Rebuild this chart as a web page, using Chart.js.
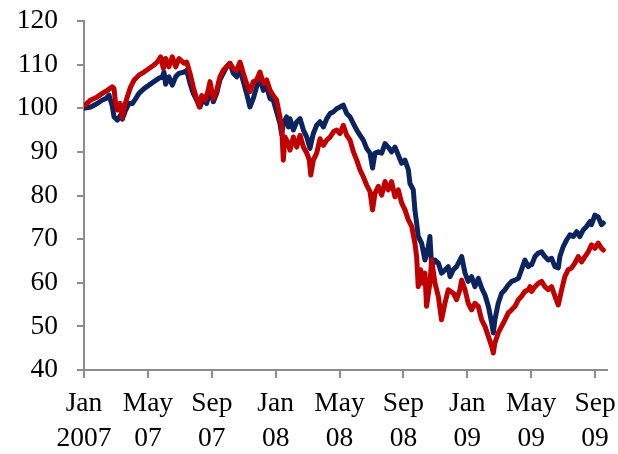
<!DOCTYPE html>
<html>
<head>
<meta charset="utf-8">
<script src="https://cdn.jsdelivr.net/npm/chart.js@4/dist/chart.umd.min.js"></script>
<style>
  html, body { margin: 0; padding: 0; background: #fff; }
  #wrap { width: 618px; height: 454px; }
</style>
</head>
<body>
<div id="wrap"><canvas id="myChart" width="618" height="454"></canvas></div>
<script>
// x positions are months since Jan 2007
const tickMonths = [0, 4, 8, 12, 16, 20, 24, 28, 32];
const tickTop = ['Jan', 'May', 'Sep', 'Jan', 'May', 'Sep', 'Jan', 'May', 'Sep'];
const tickBottom = ['2007', '07', '07', '08', '08', '08', '09', '09', '09'];

// navy series
const blueMonths = [
  0, 0.42, 0.83, 1.15, 1.36, 1.57, 1.77, 1.88, 2.09, 2.30, 2.40, 2.61, 2.82, 3.03, 3.24, 3.44, 3.76, 4.07, 4.38, 4.70, 4.91, 5.01, 5.11, 5.32, 5.53, 5.74, 5.95, 6.26,
  6.43, 6.64, 6.84, 7.05, 7.26, 7.47, 7.68, 7.89, 8.10, 8.31, 8.51, 8.72, 8.93, 9.14, 9.35, 9.56, 9.77, 9.98, 10.18, 10.39, 10.60, 10.81, 11.02, 11.23, 11.44, 11.65, 11.85, 12.06, 12.27,
  12.38, 12.48, 12.69, 12.80, 12.90, 13.11, 13.32, 13.53, 13.74, 13.95, 14.15, 14.36, 14.57, 14.78, 14.99, 15.20, 15.41, 15.62, 15.82, 16.03, 16.24, 16.45, 16.66, 16.87, 17.08, 17.29, 17.49, 17.70, 17.91,
  18.07, 18.22, 18.43, 18.64, 18.85, 19.05, 19.26, 19.47, 19.68, 19.89, 20.10, 20.31, 20.41, 20.62, 20.72, 20.83, 20.93, 21.14, 21.35, 21.56, 21.66, 21.77, 21.98, 22.19, 22.39, 22.60, 22.81, 22.92,
  23.13, 23.33, 23.54, 23.65, 23.86, 24.06, 24.27, 24.48, 24.69, 24.90, 25.11, 25.32, 25.53, 25.63, 25.73, 25.94, 26.15, 26.36, 26.57, 26.78, 26.99, 27.20, 27.40, 27.61, 27.82, 27.93,
  28.03, 28.24, 28.45, 28.65, 28.86, 29.07, 29.28, 29.49, 29.70, 29.80, 30.01, 30.22, 30.43, 30.64, 30.85, 31.05, 31.26, 31.47, 31.68, 31.78, 31.99, 32.20, 32.41, 32.52
];
const blueValues = [
  100.0, 100.3, 101.1, 101.9, 102.2, 103.0, 100.5, 98.0, 97.3, 98.5, 97.5, 99.6, 101.1, 101.1, 102.2, 103.4, 104.5, 105.3, 106.1, 106.9, 107.2, 108.3, 105.5, 107.2, 105.3, 107.2, 108.0, 108.3,
  108.7, 105.7, 103.4, 101.9, 100.3, 102.2, 101.1, 104.1, 101.5, 103.4, 106.5, 108.0, 109.5, 110.3, 108.0, 107.2, 108.7, 106.1, 103.4, 100.3, 102.2, 104.9, 106.9, 104.1, 104.9, 102.2, 101.9, 99.2, 96.5,
  94.0, 96.5, 98.0, 95.7, 97.6, 95.0, 96.9, 97.6, 95.0, 93.4, 90.8, 94.2, 96.1, 96.9, 95.7, 97.6, 98.8, 99.2, 99.9, 100.3, 100.7, 98.8, 98.0, 96.5, 95.0, 93.8, 92.7, 90.8, 89.7,
  86.3, 89.7, 90.0, 89.7, 91.9, 91.1, 90.0, 91.1, 89.3, 87.4, 88.1, 85.9, 82.8, 81.3, 76.7, 73.7, 70.6, 69.1, 65.2, 68.3, 70.6, 63.7, 65.2, 64.5, 62.2, 62.9, 63.7, 61.4,
  63.0, 63.7, 65.2, 66.0, 62.2, 60.3, 61.4, 59.1, 61.0, 58.8, 57.2, 54.6, 50.8, 48.5, 51.5, 55.3, 57.6, 58.4, 59.5, 60.3, 60.6, 61.0, 63.0, 65.2, 63.7, 64.1,
  64.1, 66.0, 66.8, 67.1, 66.0, 65.2, 65.6, 63.7, 63.4, 66.0, 68.3, 69.8, 71.0, 70.6, 71.7, 70.6, 72.1, 72.9, 74.0, 73.3, 75.5, 75.1, 73.3, 73.7
];

// red series
const redMonths = [
  0, 0.42, 0.83, 1.15, 1.46, 1.77, 1.88, 1.98, 2.09, 2.25, 2.40, 2.55, 2.71, 2.92, 3.13, 3.44, 3.76, 4.07, 4.38, 4.59, 4.80, 4.97, 5.11, 5.32, 5.53, 5.74, 5.95, 6.26,
  6.43, 6.64, 6.84, 7.05, 7.22, 7.37, 7.58, 7.78, 7.89, 8.10, 8.31, 8.51, 8.72, 8.93, 9.14, 9.35, 9.56, 9.77, 9.98, 10.18, 10.39, 10.60, 10.81, 11.02, 11.23, 11.44, 11.65, 11.85, 12.06, 12.27,
  12.38, 12.48, 12.59, 12.80, 12.90, 13.11, 13.32, 13.53, 13.74, 13.95, 14.11, 14.20, 14.36, 14.57, 14.78, 14.99, 15.20, 15.41, 15.62, 15.82, 16.03, 16.24, 16.45, 16.66, 16.87, 17.08, 17.29, 17.49, 17.70, 17.91,
  18.07, 18.22, 18.43, 18.64, 18.85, 19.05, 19.26, 19.47, 19.68, 19.89, 20.10, 20.31, 20.52, 20.72, 20.83, 20.93, 21.08, 21.20, 21.35, 21.45, 21.66, 21.77, 21.98, 22.19, 22.39, 22.60, 22.81,
  23.13, 23.33, 23.54, 23.65, 23.86, 24.06, 24.27, 24.48, 24.69, 24.90, 25.11, 25.32, 25.53, 25.63, 25.73, 25.94, 26.15, 26.36, 26.57, 26.78, 26.99, 27.20, 27.40, 27.61, 27.82, 27.93,
  28.03, 28.24, 28.45, 28.65, 28.86, 29.07, 29.28, 29.49, 29.70, 29.91, 30.11, 30.32, 30.53, 30.74, 30.95, 31.16, 31.37, 31.58, 31.78, 31.99, 32.20, 32.41, 32.52
];
const redValues = [
  100.5, 101.9, 102.6, 103.4, 104.1, 104.9, 104.5, 101.1, 99.6, 101.1, 97.8, 100.7, 102.6, 104.9, 106.4, 107.6, 108.3, 109.1, 109.9, 110.6, 111.8, 109.1, 111.4, 109.5, 111.8, 109.5, 111.4, 110.3,
  110.6, 108.0, 104.9, 102.2, 100.3, 102.9, 101.9, 104.1, 106.1, 102.2, 104.1, 107.2, 108.7, 109.5, 110.3, 109.1, 108.7, 110.6, 108.0, 105.7, 103.8, 106.1, 106.5, 108.3, 105.7, 106.5, 104.1, 102.9, 101.9, 98.0,
  95.7, 88.1, 93.4, 91.9, 90.4, 93.4, 91.1, 93.8, 91.1, 89.7, 88.1, 84.7, 88.1, 89.7, 93.0, 91.5, 92.7, 93.4, 94.6, 95.0, 94.2, 96.1, 93.8, 92.7, 90.0, 88.1, 85.8, 84.3, 82.4, 80.9,
  76.7, 80.5, 82.1, 80.1, 83.2, 81.3, 83.2, 79.7, 81.3, 78.3, 76.7, 74.4, 72.9, 69.1, 66.0, 59.1, 63.0, 59.9, 62.2, 54.6, 59.9, 65.2, 59.9, 56.8, 51.5, 55.3, 58.4,
  57.6, 56.1, 58.4, 60.6, 58.4, 55.3, 53.8, 55.3, 54.6, 51.5, 50.0, 47.7, 45.4, 43.9, 46.2, 48.5, 50.0, 51.5, 53.1, 53.8, 54.6, 56.1, 56.9, 58.0, 58.4, 59.1,
  58.0, 59.1, 59.9, 60.3, 59.1, 58.4, 59.1, 56.9, 54.9, 58.4, 61.4, 63.0, 63.4, 64.5, 66.0, 64.8, 66.0, 67.1, 68.7, 67.9, 69.1, 67.9, 67.5
];

const axisGray = '#8c8c8c';
const font = { family: '"Liberation Serif", "Times New Roman", serif', size: 27.5, lineHeight: 1.25 };

const toPoints = (xs, ys) => xs.map((x, i) => ({ x, y: ys[i] }));

const data = {
  datasets: [
    {
      label: 'red',
      data: toPoints(redMonths, redValues),
      borderColor: '#c00000',
      borderWidth: 5,
      pointRadius: 0,
      tension: 0,
      borderJoinStyle: 'round',
      borderCapStyle: 'round'
    },
    {
      label: 'navy',
      data: toPoints(blueMonths, blueValues),
      borderColor: '#0b2460',
      borderWidth: 5,
      pointRadius: 0,
      tension: 0,
      borderJoinStyle: 'round',
      borderCapStyle: 'round'
    }
  ]
};

const options = {
  responsive: false,
  animation: false,
  layout: { padding: { top: 21, right: 11, left: 0, bottom: 0 } },
  plugins: {
    legend: { display: false },
    tooltip: { enabled: false }
  },
  scales: {
    x: {
      type: 'linear',
      min: 0,
      max: 32.75,
      afterBuildTicks: (scale) => {
        scale.ticks = tickMonths.map(v => ({ value: v }));
      },
      // fixed box, no extra room for label overflow
      afterFit: (scale) => {
        scale.height = 84;
        scale.paddingLeft = 0;
        scale.paddingRight = 0;
      },
      border: { display: true, color: axisGray, width: 2 },
      grid: { drawOnChartArea: false, drawTicks: true, tickLength: 8, color: axisGray, lineWidth: 2 },
      ticks: {
        autoSkip: false,
        maxRotation: 0,
        padding: 9,
        color: '#000',
        font,
        callback: (v) => {
          const i = tickMonths.indexOf(v);
          return i < 0 ? '' : [tickTop[i], tickBottom[i]];
        }
      }
    },
    y: {
      min: 40,
      max: 120,
      afterFit: (scale) => {
        scale.width = 84;
        scale.paddingTop = 0;
        scale.paddingBottom = 0;
      },
      border: { display: true, color: axisGray, width: 2 },
      grid: { drawOnChartArea: false, drawTicks: true, tickLength: 7, color: axisGray, lineWidth: 2 },
      ticks: { stepSize: 10, padding: 19, color: '#000', font }
    }
  }
};

//render
new Chart(document.getElementById('myChart'), { type: 'line', data, options });
</script>
</body>
</html>
